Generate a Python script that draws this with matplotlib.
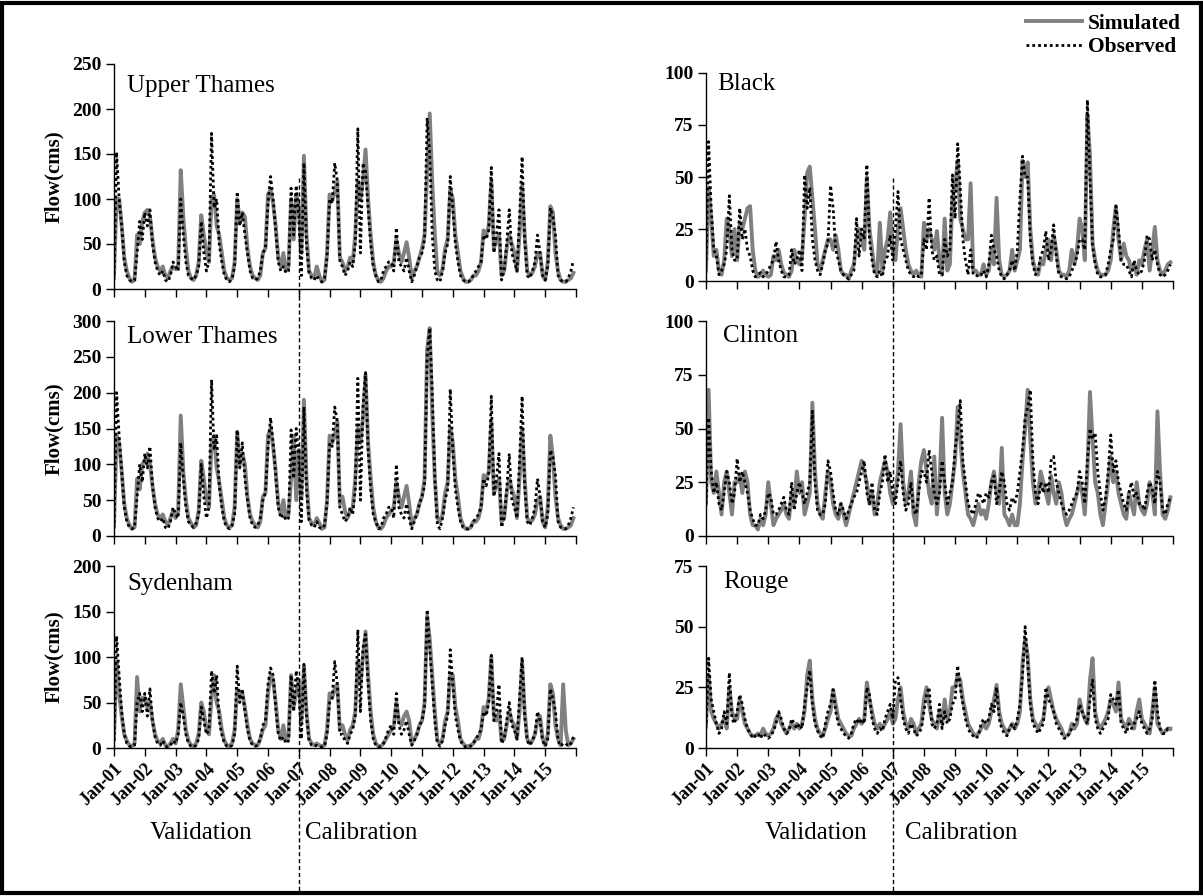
import matplotlib.pyplot as plt
import matplotlib.transforms as mtransforms
from matplotlib.lines import Line2D
from matplotlib.patches import Rectangle
import numpy as np

plt.rcParams['font.family'] = ['Liberation Serif', 'DejaVu Serif']

# monthly flows Jan-01 .. Dec-15
tick_labels = ['Jan-01', 'Jan-02', 'Jan-03', 'Jan-04', 'Jan-05', 'Jan-06', 'Jan-07', 'Jan-08',
               'Jan-09', 'Jan-10', 'Jan-11', 'Jan-12', 'Jan-13', 'Jan-14', 'Jan-15']

ut_sim = [15, 100, 100, 70, 35, 20, 12, 8, 10, 60, 50, 75,
          85, 88, 80, 55, 35, 25, 20, 25, 15, 12, 20, 25,
          22, 25, 132, 80, 45, 20, 12, 10, 15, 30, 82, 60,
          40, 30, 100, 105, 70, 60, 40, 20, 12, 10, 12, 30,
          100, 75, 85, 80, 45, 25, 15, 12, 10, 15, 40, 45,
          105, 110, 95, 70, 35, 25, 40, 20, 25, 100, 55, 105,
          90, 40, 148, 60, 20, 15, 12, 25, 15, 8, 10, 40,
          105, 98, 108, 120, 35, 30, 20, 25, 35, 30, 60, 120,
          100, 120, 155, 100, 60, 30, 15, 10, 8, 12, 20, 25,
          25, 30, 55, 40, 30, 40, 52, 35, 12, 20, 25, 35,
          45, 60, 130, 195, 118, 60, 18, 15, 22, 45, 55, 110,
          100, 60, 40, 20, 12, 8, 8, 10, 15, 15, 20, 30,
          65, 60, 70, 120, 45, 55, 60, 15, 20, 45, 60, 50,
          40, 20, 60, 115, 60, 20, 15, 18, 25, 40, 40, 15,
          10, 30, 92, 85, 40, 20, 10, 8, 8, 10, 12, 18]
ut_obs = [10, 152, 100, 70, 30, 15, 10, 8, 10, 40, 75, 55,
          85, 70, 88, 50, 30, 20, 15, 20, 10, 8, 15, 30,
          25, 20, 100, 60, 30, 15, 12, 10, 15, 25, 75, 40,
          20, 30, 173, 90, 100, 50, 30, 15, 10, 8, 12, 25,
          108, 70, 85, 60, 40, 20, 12, 10, 12, 20, 40, 45,
          95, 125, 100, 65, 30, 20, 25, 18, 20, 112, 60, 115,
          80, 15, 140, 50, 18, 12, 10, 15, 10, 8, 12, 35,
          100, 95, 140, 120, 30, 25, 15, 20, 30, 25, 50, 178,
          40, 140, 130, 90, 50, 25, 15, 8, 10, 20, 25, 30,
          30, 20, 68, 30, 25, 20, 35, 20, 8, 15, 25, 35,
          40, 55, 190, 150, 60, 20, 10, 8, 20, 40, 50, 125,
          90, 50, 30, 15, 10, 8, 8, 10, 15, 20, 25, 30,
          60, 55, 65, 135, 40, 60, 88, 10, 20, 50, 88, 40,
          30, 20, 80, 147, 55, 15, 12, 20, 30, 60, 40, 15,
          10, 25, 90, 80, 60, 15, 10, 8, 8, 12, 20, 32]

lt_sim = [15, 140, 130, 90, 45, 25, 15, 10, 12, 80, 65, 100,
          105, 115, 100, 70, 45, 30, 25, 30, 20, 15, 25, 35,
          25, 35, 168, 90, 50, 25, 18, 12, 15, 35, 105, 80,
          50, 40, 130, 140, 95, 75, 50, 25, 15, 12, 15, 40,
          145, 100, 115, 100, 55, 30, 20, 15, 12, 20, 55, 60,
          140, 150, 125, 90, 45, 30, 50, 25, 30, 80, 140, 50,
          120, 55, 190, 80, 25, 18, 15, 25, 18, 10, 12, 50,
          140, 130, 140, 160, 45, 55, 35, 25, 35, 40, 80, 150,
          130, 165, 225, 130, 80, 40, 20, 12, 10, 15, 25, 30,
          35, 40, 75, 55, 40, 55, 70, 45, 15, 25, 30, 45,
          55, 80, 260, 290, 170, 80, 25, 20, 30, 60, 75, 150,
          130, 80, 55, 25, 15, 10, 10, 12, 20, 20, 25, 40,
          85, 80, 90, 160, 60, 70, 80, 20, 25, 60, 80, 65,
          55, 25, 80, 150, 80, 25, 20, 22, 30, 50, 55, 20,
          12, 40, 140, 110, 55, 25, 15, 10, 10, 12, 15, 25]
lt_obs = [10, 200, 140, 90, 40, 20, 12, 10, 12, 55, 100, 75,
          115, 95, 125, 70, 40, 25, 20, 25, 12, 10, 20, 40,
          30, 25, 130, 80, 40, 20, 15, 12, 18, 30, 100, 55,
          25, 40, 218, 120, 140, 70, 40, 20, 12, 10, 15, 30,
          148, 95, 130, 80, 50, 25, 15, 12, 15, 25, 50, 60,
          125, 165, 130, 85, 40, 25, 30, 22, 25, 148, 80, 150,
          110, 20, 180, 65, 22, 15, 12, 20, 12, 10, 15, 45,
          130, 125, 180, 160, 40, 30, 20, 25, 40, 30, 65, 220,
          50, 180, 228, 120, 65, 30, 20, 10, 12, 25, 30, 40,
          40, 25, 100, 40, 30, 25, 45, 25, 10, 20, 30, 45,
          55, 70, 250, 290, 200, 80, 15, 10, 25, 50, 65, 205,
          120, 65, 40, 20, 12, 10, 10, 12, 20, 25, 30, 40,
          80, 70, 85, 195, 55, 80, 115, 12, 25, 65, 115, 50,
          40, 25, 105, 195, 70, 20, 15, 25, 40, 80, 55, 20,
          12, 30, 120, 110, 85, 20, 12, 10, 10, 15, 25, 40]

sy_sim = [10, 95, 60, 35, 15, 8, 3, 2, 5, 78, 40, 55,
          55, 45, 50, 30, 15, 8, 5, 10, 3, 2, 5, 10,
          5, 20, 70, 45, 20, 8, 3, 2, 5, 15, 50, 40,
          20, 15, 55, 80, 50, 40, 20, 8, 3, 2, 5, 20,
          65, 55, 60, 45, 25, 10, 5, 3, 3, 10, 20, 25,
          60, 80, 75, 50, 20, 10, 25, 8, 12, 80, 45, 60,
          75, 30, 90, 40, 10, 5, 3, 5, 3, 2, 3, 20,
          60, 55, 65, 70, 20, 25, 15, 8, 20, 25, 40, 95,
          70, 100, 128, 80, 40, 15, 5, 2, 2, 5, 10, 15,
          20, 25, 50, 30, 25, 35, 40, 30, 5, 10, 15, 25,
          30, 50, 145, 120, 80, 40, 8, 5, 10, 30, 40, 80,
          80, 45, 30, 10, 5, 2, 2, 3, 5, 10, 10, 20,
          45, 40, 55, 100, 35, 30, 40, 8, 10, 25, 40, 30,
          25, 10, 40, 95, 40, 10, 5, 8, 15, 30, 35, 10,
          3, 15, 70, 60, 25, 10, 3, 70, 20, 3, 5, 10]
sy_obs = [8, 123, 80, 40, 15, 5, 2, 1, 3, 50, 60, 40,
          60, 35, 65, 30, 12, 5, 3, 8, 2, 1, 3, 8,
          5, 15, 50, 35, 15, 5, 2, 1, 3, 10, 45, 30,
          15, 20, 85, 60, 80, 30, 15, 5, 2, 1, 3, 15,
          90, 50, 65, 40, 20, 8, 3, 2, 3, 10, 25, 30,
          70, 88, 80, 45, 15, 8, 12, 5, 8, 80, 40, 85,
          65, 10, 92, 35, 8, 3, 2, 3, 2, 1, 2, 15,
          50, 55, 95, 70, 15, 15, 8, 5, 15, 20, 35, 130,
          40, 110, 125, 70, 30, 10, 3, 1, 2, 5, 12, 20,
          25, 15, 60, 25, 15, 20, 30, 15, 3, 8, 15, 25,
          30, 45, 152, 110, 70, 30, 5, 2, 8, 25, 35, 108,
          70, 35, 20, 8, 3, 1, 1, 2, 5, 10, 15, 20,
          40, 35, 50, 102, 30, 40, 70, 5, 10, 30, 50, 25,
          20, 10, 55, 100, 35, 8, 3, 8, 15, 40, 30, 8,
          2, 10, 65, 55, 40, 8, 2, 5, 5, 2, 5, 12]

bl_sim = [5, 45, 30, 12, 15, 5, 3, 10, 30, 25, 12, 25,
          10, 28, 25, 30, 35, 36, 15, 5, 2, 3, 5, 3,
          2, 3, 12, 10, 15, 8, 4, 3, 2, 5, 15, 10,
          8, 12, 30, 52, 55, 40, 25, 8, 5, 10, 15, 20,
          20, 15, 22, 15, 5, 3, 3, 1, 5, 8, 20, 25,
          20, 15, 50, 25, 15, 5, 3, 28, 5, 15, 20, 33,
          15, 10, 25, 35, 25, 15, 8, 5, 3, 5, 3, 2,
          28, 20, 25, 20, 15, 24, 10, 3, 30, 5, 8, 40,
          45, 58, 30, 25, 20, 20, 47, 5, 5, 3, 3, 8,
          3, 5, 15, 8, 40, 10, 3, 2, 3, 5, 15, 5,
          10, 15, 58, 50, 57, 25, 10, 5, 3, 10, 8, 15,
          20, 10, 22, 15, 5, 3, 3, 2, 5, 15, 8, 15,
          30, 25, 10, 80, 60, 18, 10, 5, 3, 3, 3, 5,
          10, 25, 36, 20, 10, 18, 12, 10, 5, 8, 3, 10,
          8, 15, 20, 5, 15, 26, 10, 5, 3, 5, 8, 9]
bl_obs = [10, 67, 35, 15, 12, 3, 5, 8, 15, 41, 15, 10,
          10, 35, 20, 25, 15, 12, 5, 2, 3, 4, 2, 3,
          5, 8, 10, 19, 10, 5, 2, 2, 3, 15, 8, 10,
          15, 5, 51, 35, 45, 20, 10, 5, 3, 8, 15, 18,
          46, 35, 15, 10, 5, 3, 2, 1, 3, 5, 30, 12,
          25, 20, 56, 20, 10, 3, 2, 5, 2, 10, 12, 22,
          10, 25, 43, 20, 15, 10, 5, 3, 2, 3, 2, 3,
          20, 15, 40, 15, 10, 12, 3, 3, 20, 12, 15, 51,
          30, 66, 45, 20, 10, 3, 15, 3, 3, 2, 3, 5,
          2, 8, 22, 15, 12, 5, 2, 1, 3, 5, 10, 5,
          15, 40, 60, 50, 50, 20, 8, 3, 5, 12, 15, 24,
          10, 15, 27, 12, 3, 2, 2, 1, 2, 5, 8, 12,
          20, 20, 15, 87, 50, 17, 8, 3, 2, 2, 3, 8,
          15, 20, 36, 25, 10, 8, 8, 5, 2, 10, 5, 3,
          5, 10, 22, 20, 10, 15, 8, 3, 2, 3, 5, 8]

cl_sim = [15, 68, 25, 20, 30, 20, 10, 25, 30, 20, 10, 25,
          25, 28, 20, 30, 25, 10, 5, 5, 3, 8, 5, 10,
          25, 15, 5, 8, 10, 12, 15, 10, 8, 20, 15, 30,
          20, 25, 10, 15, 20, 62, 30, 15, 10, 8, 20, 30,
          25, 15, 10, 8, 15, 10, 5, 10, 15, 20, 25, 30,
          35, 30, 25, 15, 20, 10, 15, 25, 30, 35, 30, 20,
          15, 20, 30, 52, 25, 15, 20, 30, 10, 5, 25, 35,
          40, 30, 20, 15, 37, 10, 25, 55, 20, 10, 15, 25,
          35, 60, 45, 30, 20, 10, 8, 5, 10, 15, 10, 12,
          8, 15, 25, 30, 20, 15, 41, 10, 8, 5, 10, 5,
          5, 15, 35, 50, 68, 45, 25, 15, 20, 30, 25, 20,
          15, 28, 20, 15, 25, 20, 10, 5, 8, 10, 15, 20,
          25, 20, 10, 30, 67, 45, 25, 20, 10, 5, 15, 25,
          37, 25, 30, 20, 15, 10, 8, 20, 15, 10, 25, 15,
          12, 10, 15, 25, 20, 10, 58, 30, 10, 8, 12, 18]
cl_obs = [15, 55, 30, 20, 25, 15, 12, 20, 30, 25, 15, 20,
          36, 25, 30, 25, 20, 12, 8, 5, 5, 10, 8, 12,
          20, 18, 10, 10, 12, 15, 18, 12, 10, 25, 12, 20,
          25, 20, 15, 20, 25, 58, 25, 12, 10, 10, 15, 35,
          30, 20, 12, 10, 15, 12, 8, 12, 15, 18, 20, 25,
          30, 35, 20, 15, 25, 12, 10, 20, 25, 38, 25, 30,
          20, 15, 25, 35, 20, 12, 15, 25, 12, 10, 20, 30,
          30, 25, 40, 30, 20, 15, 20, 35, 25, 15, 20, 25,
          40, 50, 63, 35, 25, 15, 12, 10, 15, 20, 18, 15,
          20, 18, 25, 28, 15, 20, 30, 25, 15, 12, 18, 15,
          20, 30, 40, 55, 60, 68, 35, 20, 15, 25, 20, 25,
          20, 35, 37, 25, 20, 15, 12, 10, 12, 15, 18, 20,
          30, 25, 15, 35, 50, 45, 48, 30, 20, 12, 18, 30,
          47, 30, 35, 25, 20, 15, 12, 20, 25, 18, 20, 15,
          15, 12, 20, 25, 22, 15, 30, 25, 12, 10, 15, 18]

ro_sim = [10, 30, 15, 12, 10, 8, 10, 12, 8, 25, 15, 12,
          12, 20, 15, 10, 8, 6, 5, 5, 6, 5, 8, 6,
          5, 6, 8, 12, 14, 10, 8, 6, 8, 10, 8, 10,
          8, 10, 15, 30, 36, 20, 12, 8, 6, 5, 8, 12,
          15, 24, 18, 12, 10, 8, 6, 5, 5, 8, 10, 12,
          10, 12, 27, 20, 15, 10, 8, 10, 8, 10, 12, 15,
          10, 12, 20, 25, 15, 10, 8, 12, 10, 6, 8, 10,
          20, 25, 18, 12, 10, 8, 15, 10, 20, 12, 15, 25,
          25, 30, 28, 20, 15, 10, 8, 6, 5, 6, 8, 10,
          8, 10, 15, 20, 26, 15, 10, 8, 6, 8, 10, 8,
          10, 15, 35, 45, 38, 20, 12, 10, 8, 10, 12, 20,
          25, 20, 15, 12, 10, 8, 5, 5, 6, 10, 8, 10,
          20, 15, 12, 10, 28, 37, 15, 10, 8, 10, 12, 15,
          20, 18, 15, 27, 12, 10, 8, 12, 10, 8, 15, 20,
          12, 10, 8, 6, 15, 25, 10, 8, 6, 7, 8, 8]
ro_obs = [8, 37, 20, 15, 10, 6, 8, 15, 10, 31, 12, 10,
          15, 22, 18, 12, 8, 6, 4, 5, 6, 4, 6, 5,
          4, 5, 7, 10, 15, 12, 8, 6, 7, 12, 10, 8,
          10, 8, 18, 25, 32, 18, 10, 7, 5, 4, 10, 15,
          18, 24, 15, 10, 8, 6, 5, 4, 6, 10, 12, 10,
          12, 10, 25, 22, 12, 8, 6, 8, 7, 12, 15, 18,
          12, 28, 29, 20, 12, 8, 6, 10, 8, 5, 6, 8,
          15, 22, 25, 10, 8, 10, 18, 8, 15, 10, 12, 18,
          20, 34, 25, 18, 12, 8, 6, 5, 4, 5, 10, 12,
          10, 12, 18, 15, 25, 12, 8, 6, 5, 8, 10, 8,
          12, 18, 30, 50, 35, 18, 10, 8, 6, 8, 10, 25,
          20, 18, 15, 10, 8, 6, 4, 4, 6, 8, 10, 12,
          18, 15, 12, 10, 20, 28, 12, 8, 6, 8, 10, 12,
          22, 20, 18, 24, 10, 8, 6, 10, 8, 10, 12, 15,
          10, 8, 6, 8, 12, 28, 15, 8, 6, 6, 8, 7]

W, H = 1203, 896
fig = plt.figure(figsize=(W / 100, H / 100), dpi=100)

def rect(x0, x1, y0, y1):
    # pixel box -> figure fraction
    return [x0 / W, 1 - y1 / H, (x1 - x0) / W, (y1 - y0) / H]

# name, sim, obs, ymax, step, pixel box, title pos, bottom row, left col
panels = [
    ('Upper Thames', ut_sim, ut_obs, 250, 50, rect(114, 576, 64, 289), (0.028, 0.877), False, True),
    ('Lower Thames', lt_sim, lt_obs, 300, 50, rect(114, 576, 321, 536), (0.028, 0.898), False, True),
    ('Sydenham', sy_sim, sy_obs, 200, 50, rect(114, 576, 566, 748), (0.028, 0.868), True, True),
    ('Black', bl_sim, bl_obs, 100, 25, rect(706, 1173, 73, 281), (0.023, 0.919), False, False),
    ('Clinton', cl_sim, cl_obs, 100, 25, rect(706, 1173, 321, 536), (0.037, 0.904), False, False),
    ('Rouge', ro_sim, ro_obs, 75, 25, rect(706, 1173, 566, 748), (0.037, 0.879), True, False),
]

months = np.arange(len(ut_sim))
axes = []
for name, sim, obs, ymax, step, box, tpos, bottom, left in panels:
    ax = fig.add_axes(box)
    ax.plot(months, sim, color='#808080', lw=2.8, solid_joinstyle='round')
    ax.plot(months, obs, color='black', lw=2.0, linestyle=(0, (1, 1.1)))
    ax.set_xlim(0, 180)
    ax.set_ylim(0, ymax)
    ax.set_yticks(np.arange(0, ymax + 1, step))
    ax.set_xticks(np.arange(0, 181, 12))
    if bottom:
        ax.set_xticklabels(tick_labels + [''], rotation=45, ha='right',
                           rotation_mode='anchor', fontweight='bold', fontsize=13)
    else:
        ax.set_xticklabels([])
    for lab in ax.get_yticklabels():
        lab.set_fontweight('bold')
        lab.set_fontsize(14)
    ax.tick_params(direction='out', length=6, width=1, color='black', pad=3)
    ax.spines['top'].set_visible(False)
    ax.spines['right'].set_visible(False)
    ax.spines['left'].set_linewidth(1)
    ax.spines['bottom'].set_linewidth(1)
    ax.set_facecolor('none')
    if left:
        ax.set_ylabel('Flow(cms)', fontsize=15, fontweight='bold', labelpad=6)
    ax.text(tpos[0], tpos[1], name, transform=ax.transAxes, fontsize=18, va='baseline')
    axes.append(ax)

# validation / calibration divider at Jan-07
for ax in (axes[2], axes[5]):
    tr = mtransforms.blended_transform_factory(ax.transData, fig.transFigure)
    fig.add_artist(Line2D([72, 72], [1 - 178 / H, 0.004], transform=tr, color='black',
                          lw=1, linestyle=(0, (3, 2))))

# period labels under each column
for x_val, x_cal in ((150, 305), (765, 905)):
    fig.text(x_val / W, 1 - 833 / H, 'Validation', fontsize=18, va='center', ha='left')
    fig.text(x_cal / W, 1 - 833 / H, 'Calibration', fontsize=18, va='center', ha='left')

handles = [Line2D([], [], color='#808080', lw=2.8),
           Line2D([], [], color='black', lw=2.0, linestyle=(0, (1, 1.1)))]
fig.legend(handles, ['Simulated', 'Observed'], loc='upper right',
           bbox_to_anchor=(1192 / W, 1 - 3 / H), frameon=False,
           prop={'weight': 'bold', 'size': 15.5}, handlelength=2.6,
           handletextpad=0.3, labelspacing=0.15, borderpad=0.0)

fig.add_artist(Rectangle((0.002, 0.003), 0.996, 0.994, transform=fig.transFigure,
                         fill=False, ec='black', lw=3))

fig.savefig('out.png', dpi=100)
